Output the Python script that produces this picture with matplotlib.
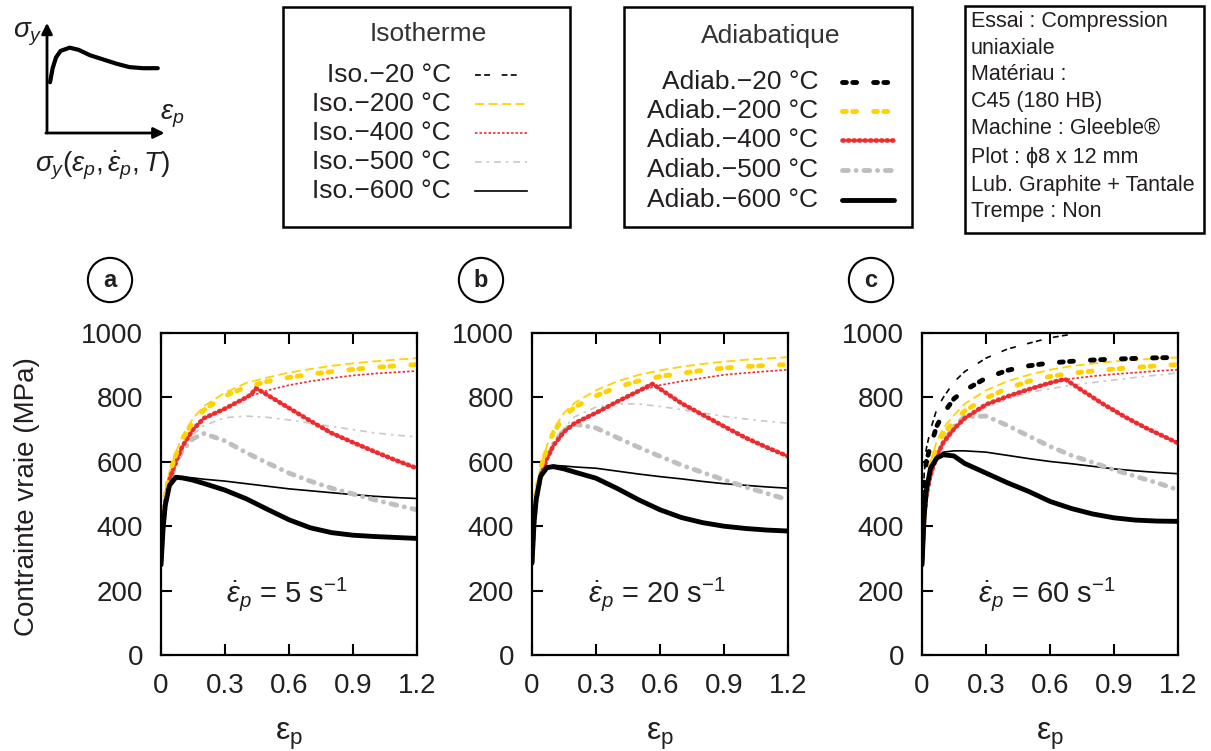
import numpy as np
import matplotlib
matplotlib.use('Agg')
import matplotlib.pyplot as plt
from matplotlib.lines import Line2D
from matplotlib.patches import Rectangle

plt.rcParams['font.family'] = ['Liberation Sans', 'DejaVu Sans']
plt.rcParams['mathtext.fontset'] = 'custom'
plt.rcParams['mathtext.rm'] = 'Liberation Sans'
plt.rcParams['mathtext.it'] = 'Liberation Sans:italic'
plt.rcParams['mathtext.bf'] = 'Liberation Sans:bold'

W, H = 1211, 751

# strain grid shared by most curves
eps = [0, 0.01, 0.02, 0.04, 0.07, 0.1, 0.15, 0.2, 0.3, 0.4, 0.5, 0.6, 0.7, 0.8, 0.9, 1.0, 1.1, 1.2]

# panel a : 5 s-1
a_iso200 = [300, 430, 500, 570, 630, 680, 735, 772, 815, 845, 862, 877, 888, 898, 906, 912, 917, 922]
a_adiab200 = [300, 425, 495, 565, 622, 670, 725, 760, 805, 832, 850, 862, 872, 880, 887, 893, 898, 902]
a_iso400 = [290, 410, 475, 545, 600, 648, 700, 735, 765, 800, 822, 838, 850, 860, 868, 874, 878, 882]
a_adiab400_eps = [0, 0.01, 0.02, 0.04, 0.07, 0.1, 0.15, 0.2, 0.3, 0.4, 0.42, 0.446, 0.47, 0.5, 0.6, 0.7, 0.8, 0.9, 1.0, 1.1, 1.2]
a_adiab400 = [290, 410, 475, 545, 600, 648, 700, 735, 765, 800, 808, 829, 819, 807, 767, 727, 689, 660, 632, 605, 580]
a_iso500 = [290, 410, 470, 540, 600, 640, 685, 712, 737, 742, 738, 730, 720, 710, 700, 690, 683, 677]
a_adiab500 = [290, 410, 470, 535, 595, 635, 672, 688, 665, 628, 596, 565, 540, 518, 500, 482, 466, 451]
a_iso600 = [285, 400, 470, 530, 553, 553, 550, 546, 540, 532, 524, 516, 510, 504, 498, 493, 489, 486]
a_adiab600 = [280, 395, 465, 527, 552, 550, 543, 533, 512, 485, 452, 420, 395, 380, 372, 368, 365, 362]

# panel b : 20 s-1
b_iso200 = [300, 440, 510, 585, 650, 700, 752, 783, 822, 850, 870, 884, 895, 904, 911, 917, 921, 925]
b_adiab200 = [300, 435, 505, 580, 640, 690, 740, 770, 805, 832, 851, 865, 875, 884, 891, 896, 899, 902]
b_iso400 = [290, 420, 485, 555, 610, 650, 693, 720, 752, 787, 820, 838, 850, 860, 870, 876, 881, 886]
b_adiab400_eps = [0, 0.01, 0.02, 0.04, 0.07, 0.1, 0.15, 0.2, 0.3, 0.4, 0.5, 0.565, 0.7, 0.8, 0.9, 1.0, 1.1, 1.2]
b_adiab400 = [290, 420, 485, 555, 610, 650, 693, 720, 752, 787, 820, 842, 782, 746, 710, 675, 645, 617]
b_iso500 = [290, 420, 480, 550, 610, 655, 705, 740, 770, 780, 780, 772, 762, 752, 741, 733, 726, 720]
b_adiab500 = [290, 420, 480, 550, 610, 655, 700, 717, 705, 675, 645, 617, 590, 567, 544, 522, 502, 482]
b_iso600 = [285, 420, 490, 560, 585, 589, 587, 584, 580, 571, 562, 554, 547, 539, 532, 527, 522, 518]
b_adiab600 = [285, 415, 485, 555, 582, 585, 578, 568, 549, 517, 482, 451, 427, 411, 400, 393, 388, 385]

# panel c : 60 s-1
c_iso20 = [300, 560, 640, 700, 765, 800, 848, 880, 922, 950, 968, 985, 996, 1005, 1012, 1018, 1023, 1028]
c_adiab20 = [300, 540, 600, 650, 712, 750, 796, 822, 860, 884, 898, 907, 912, 916, 919, 921, 923, 924]
c_iso200 = [300, 450, 520, 600, 665, 705, 745, 780, 822, 850, 870, 886, 897, 905, 912, 917, 921, 924]
c_adiab200 = [300, 445, 515, 590, 650, 688, 725, 758, 798, 828, 850, 865, 875, 882, 888, 893, 898, 902]
c_iso400 = [290, 430, 495, 560, 620, 660, 702, 735, 778, 803, 825, 845, 858, 866, 872, 877, 882, 886]
c_adiab400_eps = [0, 0.01, 0.02, 0.04, 0.07, 0.1, 0.15, 0.2, 0.3, 0.4, 0.5, 0.6, 0.67, 0.75, 0.85, 0.95, 1.05, 1.2]
c_adiab400 = [290, 430, 495, 560, 620, 660, 702, 735, 778, 803, 825, 845, 857, 822, 779, 740, 705, 658]
c_iso500 = [290, 425, 490, 560, 615, 655, 700, 735, 768, 795, 815, 827, 838, 846, 854, 862, 869, 876]
c_adiab500 = [290, 425, 490, 560, 615, 660, 710, 740, 742, 713, 680, 648, 620, 598, 575, 555, 535, 513]
c_iso600 = [285, 440, 520, 590, 620, 630, 634, 634, 630, 620, 610, 601, 594, 586, 578, 572, 567, 563]
c_adiab600 = [280, 430, 510, 580, 612, 622, 618, 595, 565, 535, 508, 477, 455, 438, 426, 419, 416, 415]

# schematic curve (top left)
sketch_x = [0.027, 0.05, 0.08, 0.12, 0.2, 0.28, 0.38, 0.5, 0.62, 0.73, 0.85, 0.98]
sketch_y = [0.47, 0.6, 0.7, 0.76, 0.79, 0.77, 0.72, 0.68, 0.64, 0.61, 0.60, 0.60]

rates = ['5', '20', '60']
panel_letters = ['a', 'b', 'c']
xticks = [0, 0.3, 0.6, 0.9, 1.2]
xticklabels = ['0', '0.3', '0.6', '0.9', '1.2']
yticks = [0, 200, 400, 600, 800, 1000]
temps = ['20', '200', '400', '500', '600']

YEL = '#FFD200'
RED = '#EE2B2E'
GRY = '#BFBFBF'
TXT = '#231F20'

iso_style = {
    '20': dict(color='k', lw=1.2, ls=(0, (3.5, 2, 3.5, 7))),
    '200': dict(color=YEL, lw=1.3, ls=(0, (5, 2.5))),
    '400': dict(color=RED, lw=1.2, ls=(0, (1.5, 1.2))),
    '500': dict(color='#C8C8C8', lw=1.2, ls=(0, (4, 3, 1.5, 3))),
    '600': dict(color='k', lw=1.2, ls='-'),
}
adiab_style = {
    '20': dict(color='k', lw=3.5, ls=(0, (0.8, 1.3, 0.8, 3.5)), dash_capstyle='round'),
    '200': dict(color=YEL, lw=3.5, ls=(0, (0.8, 1.3, 0.8, 3.5)), dash_capstyle='round'),
    '400': dict(color=RED, lw=3.3, ls=(0, (0.3, 0.9)), dash_capstyle='round'),
    '500': dict(color=GRY, lw=3.5, ls=(0, (1.2, 1.6, 0.01, 1.6)), dash_capstyle='round'),
    '600': dict(color='k', lw=3.5, ls='-', solid_capstyle='round', solid_joinstyle='round'),
}

panels = [
    dict(iso={'200': (eps, a_iso200), '400': (eps, a_iso400), '500': (eps, a_iso500), '600': (eps, a_iso600)},
         adiab={'200': (eps, a_adiab200), '400': (a_adiab400_eps, a_adiab400), '500': (eps, a_adiab500), '600': (eps, a_adiab600)}),
    dict(iso={'200': (eps, b_iso200), '400': (eps, b_iso400), '500': (eps, b_iso500), '600': (eps, b_iso600)},
         adiab={'200': (eps, b_adiab200), '400': (b_adiab400_eps, b_adiab400), '500': (eps, b_adiab500), '600': (eps, b_adiab600)}),
    dict(iso={'20': (eps, c_iso20), '200': (eps, c_iso200), '400': (eps, c_iso400), '500': (eps, c_iso500), '600': (eps, c_iso600)},
         adiab={'20': (eps, c_adiab20), '200': (eps, c_adiab200), '400': (c_adiab400_eps, c_adiab400), '500': (eps, c_adiab500), '600': (eps, c_adiab600)}),
]

fig = plt.figure(figsize=(W / 100, H / 100), dpi=100)


def fx(px):
    return px / W


def fy(py):
    return 1 - py / H


ax_left = [161, 532, 922]
ax_w = 256
for i, p in enumerate(panels):
    ax = fig.add_axes([fx(ax_left[i]), fy(655), ax_w / W, 322 / H])
    for t in temps:
        if t in p['iso']:
            x, y = p['iso'][t]
            ax.plot(x, y, **iso_style[t])
    for t in ['500', '400', '200', '20', '600']:
        if t in p['adiab']:
            x, y = p['adiab'][t]
            ax.plot(x, y, **adiab_style[t])
    ax.set_xlim(0, 1.2)
    ax.set_ylim(0, 1000)
    ax.set_xticks(xticks)
    ax.set_xticklabels(xticklabels)
    ax.set_yticks(yticks)
    ax.tick_params(axis='both', direction='in', length=8, width=1.5, labelsize=20, colors='k',
                   labelcolor=TXT)
    ax.tick_params(axis='x', top=True, pad=13)
    ax.tick_params(axis='y', pad=13)
    for s in ax.spines.values():
        s.set_linewidth(1.6)
    ax.set_xlabel(r'$\mathrm{\varepsilon_p}$', fontsize=23, labelpad=16, color=TXT)
    ax.text(0.49, 0.19, r'$\dot{\varepsilon}_p$ = ' + rates[i] + r' s$^{\mathrm{-1}}$',
            transform=ax.transAxes, ha='center', va='center', fontsize=21, color=TXT)
    fig.text(fx(ax_left[i] - 51), fy(280), panel_letters[i], ha='center', va='center',
             fontsize=17, fontweight='bold', color=TXT,
             bbox=dict(boxstyle='circle,pad=0.45', fc='white', ec='k', lw=1.5))

fig.text(fx(27), fy(497), 'Contrainte vraie (MPa)', rotation=90, ha='center', va='center',
         fontsize=20, color=TXT)

# schematic inset
ax0 = fig.add_axes([fx(47), fy(133), 113 / W, 108 / H])
ax0.set_xlim(0, 1)
ax0.set_ylim(0, 1)
ax0.axis('off')
ax0.annotate('', xy=(0, 1.02), xytext=(0, 0), xycoords='axes fraction',
             arrowprops=dict(arrowstyle='-|>', lw=2, color='k', mutation_scale=16, shrinkA=0, shrinkB=0))
ax0.annotate('', xy=(1.04, 0), xytext=(-0.01, 0), xycoords='axes fraction',
             arrowprops=dict(arrowstyle='-|>', lw=2, color='k', mutation_scale=16, shrinkA=0, shrinkB=0))
ax0.plot(sketch_x, sketch_y, color='k', lw=3, solid_capstyle='round')
fig.text(fx(28), fy(34), r'$\sigma_y$', ha='center', va='center', fontsize=20, color=TXT)
fig.text(fx(172), fy(116), r'$\varepsilon_p$', ha='center', va='center', fontsize=20, color=TXT)
fig.text(fx(103), fy(166), r'$\sigma_y(\varepsilon_p,\dot{\varepsilon}_p,T)$', ha='center', va='center',
         fontsize=20, color=TXT)

# legend boxes, drawn by hand
fig.patches.append(Rectangle((fx(283), fy(227)), (570 - 283) / W, 220 / H, transform=fig.transFigure,
                             fill=False, ec='k', lw=1.8))
fig.patches.append(Rectangle((fx(624), fy(227)), (912 - 624) / W, 220 / H, transform=fig.transFigure,
                             fill=False, ec='k', lw=1.8))
fig.patches.append(Rectangle((fx(965), fy(233)), (1204 - 965) / W, 227 / H, transform=fig.transFigure,
                             fill=False, ec='k', lw=1.8))

fig.text(fx(428), fy(34), 'Isotherme', ha='center', va='center', fontsize=19, color='#333333')
fig.text(fx(771), fy(36), 'Adiabatique', ha='center', va='center', fontsize=19, color='#333333')
iso_rows = [75, 104, 133, 162, 191]
adiab_rows = [82, 111, 140, 170, 200]
for j, t in enumerate(temps):
    fig.text(fx(451), fy(iso_rows[j]), 'Iso.\u2212' + t + ' \u00b0C', ha='right', va='center',
             fontsize=19, color=TXT)
    fig.lines.append(Line2D([fx(475), fx(527)], [fy(iso_rows[j])] * 2, transform=fig.transFigure, **iso_style[t]))
    fig.text(fx(818), fy(adiab_rows[j]), 'Adiab.\u2212' + t + ' \u00b0C', ha='right', va='center',
             fontsize=19, color=TXT)
    fig.lines.append(Line2D([fx(842), fx(894)], [fy(adiab_rows[j])] * 2, transform=fig.transFigure, **adiab_style[t]))

info_lines = ['Essai : Compression', 'uniaxiale', 'Mat\u00e9riau :', 'C45 (180 HB)', 'Machine : Gleeble\u00ae',
              'Plot : \u03d58 x 12 mm', 'Lub. Graphite + Tantale', 'Trempe : Non']
info_rows = [21, 48, 75, 101, 128, 158, 185, 211]
for j, s in enumerate(info_lines):
    fig.text(fx(971), fy(info_rows[j]), s, ha='left', va='center', fontsize=15.5, color=TXT,
             family=['Liberation Sans', 'DejaVu Sans'])

fig.savefig('out.png', dpi=100)
